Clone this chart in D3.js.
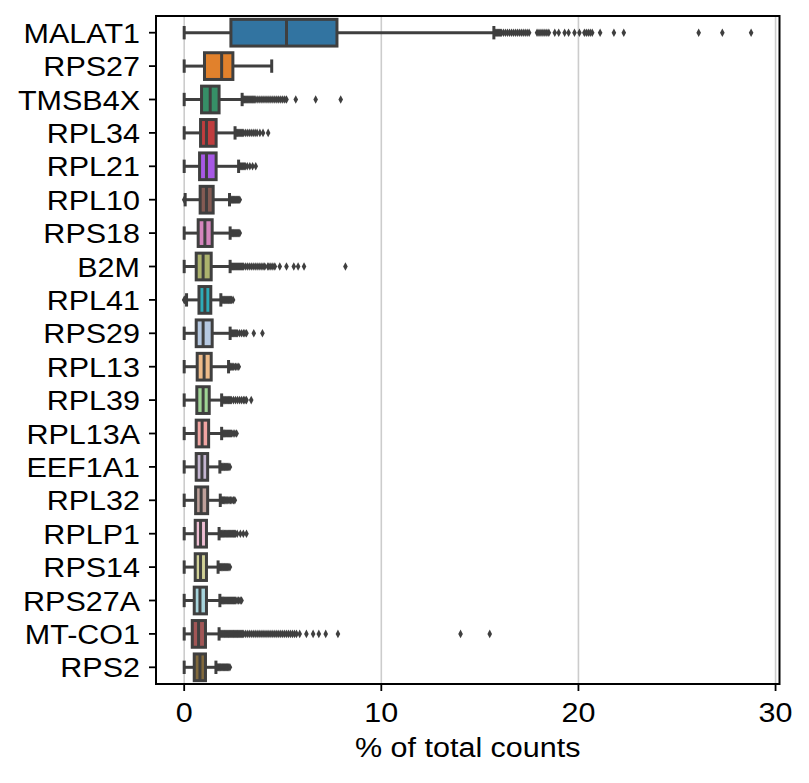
<!DOCTYPE html>
<html>
<head>
<meta charset="utf-8">
<script src="https://cdn.jsdelivr.net/npm/d3@7"></script>
<style>
  body { margin: 0; background: #fff; }
  text { font-family: Arial, "Liberation Sans", Helvetica, sans-serif; fill: #000; }
</style>
</head>
<body>
<script>
// genes, top to bottom
var genes = ["MALAT1","RPS27","TMSB4X","RPL34","RPL21","RPL10","RPS18","B2M","RPL41","RPS29",
             "RPL13","RPL39","RPL13A","EEF1A1","RPL32","RPLP1","RPS14","RPS27A","MT-CO1","RPS2"];

// box stats (% of total counts)
var whiskerLo = [0,0,0,0,0,0.05,0,0,0.12,0, 0,0,0,0,0,0,0,0,0,0];
var q1        = [2.37,1.03,0.88,0.83,0.78,0.81,0.71,0.61,0.75,0.61, 0.66,0.64,0.61,0.61,0.58,0.56,0.56,0.51,0.41,0.51];
var medians   = [5.19,1.90,1.32,1.13,1.13,1.13,1.05,0.96,1.05,0.96, 1.01,0.96,0.91,0.90,0.86,0.83,0.83,0.80,0.73,0.80];
var q3        = [7.75,2.47,1.77,1.62,1.62,1.47,1.42,1.37,1.35,1.42, 1.37,1.27,1.24,1.19,1.19,1.13,1.13,1.13,1.08,1.08];
var whiskerHi = [15.71,4.44,2.94,2.58,2.76,2.30,2.33,2.33,1.86,2.33, 2.25,1.90,1.90,1.81,1.83,1.77,1.72,1.81,1.77,1.61];

// fliers
var outliers = [
  [15.75,15.8,15.85,15.9,15.95,16.0,16.05,16.1,16.2,16.3,16.4,16.5,16.6,16.7,16.8,16.9,17.0,17.1,17.2,17.3,17.4,17.5,
   17.9,18.0,18.1,18.2,18.3,18.4,18.5,18.8,19.0,19.3,19.5,19.8,20.05,20.3,20.4,20.5,20.6,20.7,21.1,21.8,22.3,26.1,27.3,28.76],
  [],
  [2.98,3.02,3.06,3.1,3.15,3.2,3.25,3.3,3.35,3.4,3.45,3.5,3.55,3.6,3.7,3.8,3.9,4.0,4.1,4.2,4.3,4.4,4.5,4.6,4.7,4.8,4.9,5.0,5.1,5.19,5.66,6.67,7.94],
  [2.62,2.66,2.7,2.75,2.8,2.85,2.9,2.95,3.0,3.1,3.2,3.3,3.4,3.5,3.6,3.7,3.84,4.0,4.26],
  [2.8,2.85,2.9,2.95,3.0,3.05,3.1,3.2,3.33,3.47,3.63],
  [0, 2.34,2.38,2.42,2.46,2.5,2.55,2.6,2.65,2.7,2.76,2.82],
  [2.37,2.41,2.45,2.5,2.55,2.6,2.65,2.7,2.76,2.82],
  [2.37,2.41,2.45,2.5,2.55,2.6,2.65,2.7,2.75,2.8,2.85,2.9,2.95,3.0,3.1,3.2,3.3,3.4,3.5,3.6,3.7,3.8,3.9,4.0,4.09,
   4.24,4.3,4.4,4.5,4.6,4.85,5.19,5.56,5.78,6.08,8.18],
  [0,0.03,0.06, 1.9,1.95,2.0,2.05,2.1,2.15,2.2,2.25,2.3,2.35,2.4,2.48],
  [2.37,2.41,2.45,2.5,2.55,2.6,2.65,2.7,2.8,2.9,3.0,3.08,3.16,3.53,3.97],
  [2.29,2.33,2.37,2.42,2.47,2.52,2.6,2.68,2.77],
  [1.94,1.98,2.02,2.06,2.1,2.15,2.2,2.25,2.3,2.35,2.4,2.5,2.6,2.7,2.8,2.9,3.0,3.08,3.16,3.4],
  [1.94,1.98,2.02,2.06,2.1,2.15,2.2,2.25,2.3,2.35,2.4,2.48,2.57,2.66],
  [1.85,1.89,1.93,1.97,2.01,2.05,2.1,2.15,2.2,2.26,2.32],
  [1.87,1.91,1.95,1.99,2.03,2.07,2.12,2.17,2.22,2.28,2.35,2.42,2.5,2.57],
  [1.81,1.85,1.89,1.93,1.97,2.01,2.05,2.1,2.15,2.2,2.25,2.3,2.35,2.4,2.45,2.5,2.55,2.6,2.69,2.85,3.0,3.16],
  [1.76,1.8,1.84,1.88,1.92,1.96,2.0,2.05,2.1,2.15,2.2,2.26,2.32],
  [1.85,1.89,1.93,1.97,2.01,2.05,2.1,2.15,2.2,2.25,2.3,2.35,2.4,2.45,2.5,2.55,2.6,2.68,2.76,2.84,2.91],
  [1.81,1.85,1.9,1.95,2.0,2.05,2.1,2.15,2.2,2.25,2.3,2.35,2.4,2.45,2.5,2.55,2.6,2.65,2.7,2.75,2.8,2.85,2.9,2.95,
   3.0,3.1,3.2,3.3,3.4,3.5,3.6,3.7,3.8,3.9,4.0,4.1,4.2,4.3,4.4,4.5,4.6,4.7,4.8,4.9,5.0,5.1,5.2,5.3,5.4,5.5,5.6,5.7,5.86,
   6.2,6.54,6.83,7.18,7.8,14.02,15.5],
  [1.65,1.69,1.73,1.77,1.81,1.85,1.9,1.95,2.0,2.05,2.1,2.15,2.2,2.26,2.32]
];

// scanpy default_20 palette
var palette = ["#1f77b4","#ff7f0e","#279e68","#d62728","#aa40fc","#8c564b","#e377c2","#b5bd61","#17becf","#aec7e8",
               "#ffbb78","#98df8a","#ff9896","#c5b0d5","#c49c94","#f7b6d2","#dbdb8d","#9edae5","#ad494a","#8c6d31"];

var xTicks = [0, 10, 20, 30];

var width = 809, height = 783;
var plotLeft = 156, plotRight = 779.5, plotTop = 16, plotBottom = 684;
var edge = "#3f3f3f";
var lw = 3;
var fontSize = "28px";
var stretch = 1.09; // text is a bit wider than tall in the picture

var svg = d3.select("body").append("svg")
    .attr("width", width)
    .attr("height", height);

var x = d3.scaleLinear().domain([-1.43, 30.2]).range([plotLeft, plotRight]);
var y = d3.scaleBand().domain(genes).range([plotTop, plotBottom]).padding(0);
var bw = y.bandwidth() * 0.8;

// desaturate like seaborn does
function desat(c) {
    var h = d3.hsl(c);
    h.s = h.s * 0.75;
    return h.formatHex();
}

// grid lines
svg.selectAll(".grid")
    .data(xTicks)
    .enter()
    .append("line")
    .attr("class", "grid")
    .attr("x1", function(d){ return x(d); })
    .attr("x2", function(d){ return x(d); })
    .attr("y1", plotTop)
    .attr("y2", plotBottom)
    .attr("stroke", "#cccccc")
    .attr("stroke-width", 1.6);

var rows = svg.selectAll(".row")
    .data(genes)
    .enter()
    .append("g")
    .attr("class", "row")
    .attr("transform", function(d){ return "translate(0," + (y(d) + y.bandwidth() / 2) + ")"; });

// whiskers
rows.append("line")
    .attr("x1", function(d, i){ return x(whiskerLo[i]); })
    .attr("x2", function(d, i){ return x(q1[i]); })
    .attr("stroke", edge).attr("stroke-width", lw);
rows.append("line")
    .attr("x1", function(d, i){ return x(q3[i]); })
    .attr("x2", function(d, i){ return x(whiskerHi[i]); })
    .attr("stroke", edge).attr("stroke-width", lw);

// caps
rows.append("line")
    .attr("x1", function(d, i){ return x(whiskerLo[i]); })
    .attr("x2", function(d, i){ return x(whiskerLo[i]); })
    .attr("y1", -bw / 4).attr("y2", bw / 4)
    .attr("stroke", edge).attr("stroke-width", lw);
rows.append("line")
    .attr("x1", function(d, i){ return x(whiskerHi[i]); })
    .attr("x2", function(d, i){ return x(whiskerHi[i]); })
    .attr("y1", -bw / 4).attr("y2", bw / 4)
    .attr("stroke", edge).attr("stroke-width", lw);

// boxes
rows.append("rect")
    .attr("x", function(d, i){ return x(q1[i]); })
    .attr("width", function(d, i){ return x(q3[i]) - x(q1[i]); })
    .attr("y", -bw / 2)
    .attr("height", bw)
    .attr("fill", function(d, i){ return desat(palette[i]); })
    .attr("stroke", edge)
    .attr("stroke-width", lw);

// medians
rows.append("line")
    .attr("x1", function(d, i){ return x(medians[i]); })
    .attr("x2", function(d, i){ return x(medians[i]); })
    .attr("y1", -bw / 2).attr("y2", bw / 2)
    .attr("stroke", edge).attr("stroke-width", lw);

// fliers as thin diamonds
var dw = 2.3, dh = 4.3;
rows.selectAll(".flier")
    .data(function(d, i){ return outliers[i]; })
    .enter()
    .append("path")
    .attr("class", "flier")
    .attr("d", function(v){
        var cx = x(v);
        return "M" + cx + "," + (-dh) + "L" + (cx + dw) + ",0L" + cx + "," + dh + "L" + (cx - dw) + ",0Z";
    })
    .attr("fill", edge);

// frame
svg.append("rect")
    .attr("x", plotLeft).attr("y", plotTop)
    .attr("width", plotRight - plotLeft).attr("height", plotBottom - plotTop)
    .attr("fill", "none")
    .attr("stroke", "#000")
    .attr("stroke-width", 2);

// y axis ticks and labels
var yAxis = svg.append("g");
yAxis.selectAll("line")
    .data(genes)
    .enter()
    .append("line")
    .attr("x1", plotLeft - 7).attr("x2", plotLeft)
    .attr("y1", function(d){ return y(d) + y.bandwidth() / 2; })
    .attr("y2", function(d){ return y(d) + y.bandwidth() / 2; })
    .attr("stroke", "#000").attr("stroke-width", 1.8);
yAxis.selectAll("text")
    .data(genes)
    .enter()
    .append("text")
    .attr("transform", function(d){
        return "translate(140," + (y(d) + y.bandwidth() / 2) + ") scale(" + stretch + ",1)";
    })
    .attr("text-anchor", "end")
    .attr("dy", "0.36em")
    .attr("font-size", fontSize)
    .text(function(d){ return d; });

// x axis ticks and labels
var xAxis = svg.append("g");
xAxis.selectAll("line")
    .data(xTicks)
    .enter()
    .append("line")
    .attr("x1", function(d){ return x(d); })
    .attr("x2", function(d){ return x(d); })
    .attr("y1", plotBottom).attr("y2", plotBottom + 7)
    .attr("stroke", "#000").attr("stroke-width", 1.8);
xAxis.selectAll("text")
    .data(xTicks)
    .enter()
    .append("text")
    .attr("transform", function(d){ return "translate(" + x(d) + ",722) scale(" + stretch + ",1)"; })
    .attr("text-anchor", "middle")
    .attr("font-size", fontSize)
    .text(function(d){ return d; });

svg.append("text")
    .attr("transform", "translate(" + ((plotLeft + plotRight) / 2) + ",757) scale(" + stretch + ",1)")
    .attr("text-anchor", "middle")
    .attr("font-size", fontSize)
    .text("% of total counts");
</script>
</body>
</html>
